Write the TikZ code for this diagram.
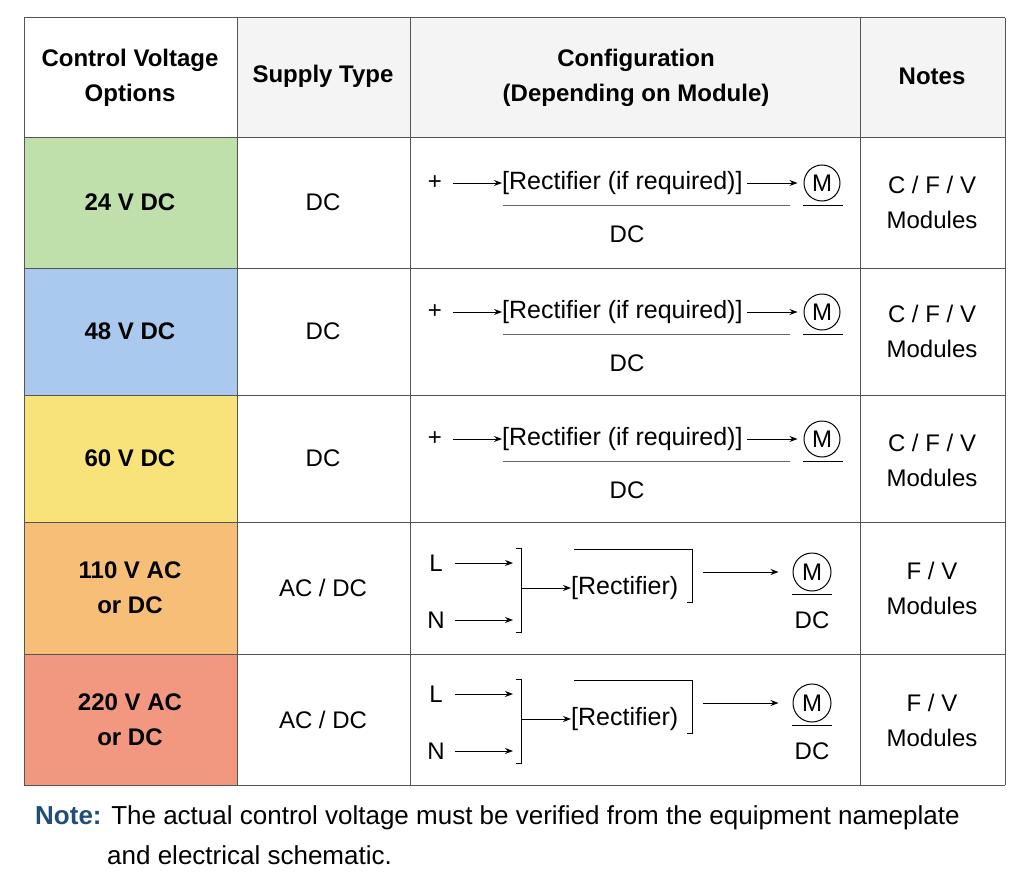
\documentclass[tikz,border=0pt]{standalone}
\usepackage{fontspec}
\setmainfont{Liberation Sans}
\usetikzlibrary{arrows.meta}
\definecolor{hdr}{HTML}{F4F4F4}
\definecolor{gr}{HTML}{BFE0AA}
\definecolor{bl}{HTML}{A9C9EF}
\definecolor{ye}{HTML}{F7E37A}
\definecolor{orr}{HTML}{F7BE78}
\definecolor{rd}{HTML}{F29780}
\definecolor{nb}{HTML}{1F4E79}
\definecolor{gl}{HTML}{555555}
\tikzset{
 t/.style={font=\fontsize{24}{28}\selectfont, inner sep=0pt, align=center},
 tc/.style={font=\fontsize{25}{28}\selectfont, inner sep=0pt, align=center},
 tb/.style={t, font=\fontsize{24}{28}\selectfont\bfseries},
 ar/.style={-{Stealth[length=8pt,width=6pt]}, line width=1pt},
 ln/.style={line width=1pt},
 grid/.style={draw=gl, line width=1pt}
}
\newcommand{\dccfg}[2]{%
 \begin{scope}[yshift=#2]
 \node[t] (p#1) at (435,-183) {+};
 \coordinate (pa#1) at (453,-183);
 \node[tc, anchor=west] (r#1) at (502,-183) {[Rectifier (if required)]};
 \node[draw, circle, line width=1pt, minimum size=36pt, inner sep=0pt, t] (m#1) at (822,-183) {M};
 \draw[ar] (pa#1) -- (r#1.west);
 \draw[ar] (r#1.east) ++(4,0) coordinate (ra#1) -- ([xshift=-6pt]m#1.west);
 \coordinate (u1#1) at (503,-205); \coordinate (u2#1) at (790,-205);
 \draw[ln, gray!80!black] (u1#1) -- (u2#1);
 \coordinate (mu1#1) at (803,-205); \coordinate (mu2#1) at (843,-205);
 \draw[ln] (mu1#1) -- (mu2#1);
 \node[t] (dc#1) at (627,-234) {DC};
 \end{scope}}
\newcommand{\accfg}[2]{%
 \begin{scope}[yshift=#2]
 \node[t] (L#1) at (436,-563) {L};
 \node[t] (N#1) at (436,-620) {N};
 \coordinate (le#1) at (513,-563); \coordinate (ne#1) at (513,-620);
 \draw[ar] (455,-563) -- (le#1);
 \draw[ar] (455,-620) -- (ne#1);
 \coordinate (b1#1) at (521,-548); \coordinate (b2#1) at (521,-632);
 \draw[ln] (516,-548) -- (b1#1) -- (b2#1) -- (516,-632);
 \node[tc, anchor=west] (r#1) at (571,-588) {[Rectifier)};
 \draw[ar] (521,-588) -- (r#1.west);
 \draw[ln] (574,-549) -- (692,-549) -- (692,-602) -- (687,-602);
 \node[draw, circle, line width=1pt, minimum size=38pt, inner sep=0pt, t] (m#1) at (812,-572) {M};
 \coordinate (ra#1) at (703,-572);
 \draw[ar] (ra#1) -- ([xshift=-14pt]m#1.west);
 \draw[ln] (792,-594) -- (832,-594);
 \node[t] (dc#1) at (812,-620) {DC};
 \end{scope}}
\begin{document}
\begin{tikzpicture}[x=1pt,y=1pt]
\useasboundingbox[fill=white] (0,0) rectangle (1024,-880);
\fill[hdr] (24,-18) rectangle (1005,-137);
\fill[white] (24,-18) rectangle (237,-137);
\fill[gr] (24,-137) rectangle (237,-268);
\fill[bl] (24,-268) rectangle (237,-395);
\fill[ye] (24,-395) rectangle (237,-522);
\fill[orr] (24,-522) rectangle (237,-654);
\fill[rd] (24,-654) rectangle (237,-785);
\fill[white] (237,-137) rectangle (1005,-785);
\foreach \x in {24,237,410,860,1005} \draw[grid] (\x,-18) -- (\x,-785);
\foreach \y in {18,137,268,395,522,654,785} \draw[grid] (24,-\y) -- (1005,-\y);
\node[tb] (h1) at (130,-78) {Control Voltage\\[7pt]Options};
\node[tb] (h2) at (323,-76) {Supply Type};
\node[tb] (h3) at (636,-78) {Configuration\\[7pt](Depending on Module)};
\node[tb] (h4) at (932,-76) {Notes};
\node[tb] (c1) at (130,-202) {24 V DC};
\node[tb] (c2) at (130,-331) {48 V DC};
\node[tb] (c3) at (130,-458) {60 V DC};
\node[tb] (c4) at (130,-588) {110 V AC\\[7pt]or DC};
\node[tb] (c5) at (130,-720) {220 V AC\\[7pt]or DC};
\node[t] (s1) at (323,-202) {DC};
\node[t] (s2) at (323,-331) {DC};
\node[t] (s3) at (323,-458) {DC};
\node[t] (s4) at (323,-588) {AC / DC};
\node[t] (s5) at (323,-720) {AC / DC};
\node[t] (n1) at (932,-202) {C / F / V\\[7pt]Modules};
\node[t] (n2) at (932,-331) {C / F / V\\[7pt]Modules};
\node[t] (n3) at (932,-460) {C / F / V\\[7pt]Modules};
\node[t] (n4) at (932,-588) {F / V\\[7pt]Modules};
\node[t] (n5) at (932,-720) {F / V\\[7pt]Modules};
\dccfg{a}{0pt}
\dccfg{b}{-129pt}
\dccfg{c}{-256pt}
\accfg{d}{0pt}
\accfg{e}{-131pt}
\node[anchor=west, inner sep=0pt, font=\fontsize{26}{30}\selectfont] (note1) at (35,-818) {\textcolor{nb}{\bfseries Note:} The actual control voltage must be verified from the equipment nameplate};
\node[anchor=west, inner sep=0pt, font=\fontsize{26}{30}\selectfont] (note2) at (107,-855) {and electrical schematic.};
\end{tikzpicture}
\end{document}
